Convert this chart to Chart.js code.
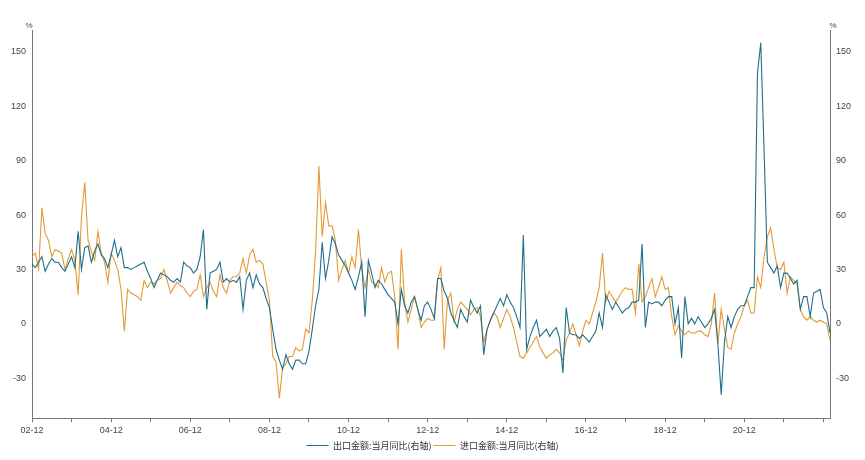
<!DOCTYPE html>
<html>
<head>
<meta charset="utf-8">
<script src="https://cdn.jsdelivr.net/npm/chart.js@4/dist/chart.umd.min.js"></script>
<style>
  html, body { margin: 0; padding: 0; background: #fff; }
  .chart-wrap { width: 865px; height: 460px; }
</style>
</head>
<body>
<div class="chart-wrap"><canvas id="Canvas"></canvas></div>
<script>
// monthly series, 2002-12 .. 2022-12
const startYear = 2002;
const startMonth = 12;

const exportYoY = [
  33,31,34,37,29,33,36,34,34,31,29,33,37,31,51,30,42,43,34,40,44,38,36,31,38,
  46,37,42,31,31,30,31,32,33,34,29,25,20,24,28,27,26,24,23,25,23,34,32,31,28,
  30,37,52,8,28,29,30,34,23,25,23,24,23,26,8,24,28,20,27,22,20,14,9,-3,-14,
  -20,-25,-17,-22,-25,-20,-20,-22,-22,-15,-3,10,19,45,25,35,48,44,38,35,32,28,24,19,26,
  34,4,35,28,20,24,22,19,16,14,12,0,19,10,6,12,15,8,2,10,12,8,3,25,25,
  18,14,6,2,-2,8,4,1,13,9,6,10,-17,-3,2,6,10,14,10,16,12,9,4,-2,49,
  -14,-7,-2,2,-7,-5,-3,-7,-4,-2,-8,-27,9,-5,-6,-6,-8,-6,-8,-10,-7,-4,6,-2,16,
  12,8,12,9,6,8,9,12,12,13,44,-2,12,11,12,12,10,13,15,15,0,9,-19,15,0,
  3,0,4,1,-2,0,3,8,-11,-39,-10,4,-2,4,8,10,10,15,20,20,138,155,96,34,31,
  28,32,20,28,28,25,22,24,8,15,15,4,17,18,19,9,6,-5
];

const importYoY = [
  37,39,30,64,50,46,37,41,40,39,30,36,41,35,16,59,78,46,40,35,51,39,34,23,39,
  35,30,19,-4,19,17,16,15,13,24,20,23,22,24,25,30,24,17,20,23,21,20,17,15,18,
  19,27,15,20,23,18,15,27,20,17,24,26,26,28,36,28,38,41,34,35,33,23,13,-18,-21,
  -41,-24,-22,-18,-18,-13,-15,-14,-3,-5,13,40,87,48,67,54,54,46,24,30,35,28,37,31,52,
  30,20,30,23,22,20,31,23,28,29,15,-14,41,12,1,8,15,8,-2,1,3,2,2,24,31,
  -14,13,17,1,8,12,10,8,5,8,9,4,-10,-3,2,6,4,-2,3,8,4,-2,-10,-18,-19,
  -16,-13,-10,-7,-13,-16,-19,-17,-16,-14,-16,-20,-9,-5,0,-6,-12,-4,2,0,6,12,20,39,12,
  18,15,12,15,18,20,19,19,6,33,12,15,20,25,15,20,26,19,20,4,-6,-1,-4,-6,-4,
  -5,-5,-4,-4,-6,-7,0,17,-11,8,-3,-13,-14,-5,0,4,10,13,6,6,26,20,37,48,53,
  41,31,30,34,17,26,24,22,8,4,2,4,2,1,2,1,0,-9
];

const seriesNames = ['出口金额:当月同比(右轴)', '进口金额:当月同比(右轴)'];
const yTickValues = [-30, 0, 30, 60, 90, 120, 150];
const xTickLabels = ['02-12', '04-12', '06-12', '08-12', '10-12', '12-12', '14-12', '16-12', '18-12', '20-12'];

const labels = [];
for (let i = 0; i < exportYoY.length; i++) {
  const m = (startMonth - 1 + i) % 12 + 1;
  const y = startYear + Math.floor((startMonth - 1 + i) / 12);
  labels.push(String(y % 100).padStart(2, '0') + '-' + String(m).padStart(2, '0'));
}

const axisColor = '#777';
const tickFont = { family: 'Liberation Sans', size: 9 };

function yAxis(position, width) {
  return {
    position: position,
    min: -52,
    max: 162,
    border: { color: axisColor },
    grid: { display: false, drawTicks: true, tickLength: 4, color: axisColor, drawOnChartArea: false },
    afterBuildTicks: (axis) => {
      axis.ticks = [];
      for (let v = -45; v <= 165; v += 15) axis.ticks.push({ value: v });
    },
    ticks: {
      color: '#444',
      font: tickFont,
      padding: 2,
      callback: (v) => yTickValues.includes(v) ? v : ''
    },
    afterFit: (axis) => { axis.width = width; }
  };
}

const percentLabels = {
  id: 'percentLabels',
  afterDraw(chart) {
    const ctx = chart.ctx;
    ctx.save();
    ctx.fillStyle = '#444';
    ctx.font = '8px Liberation Sans';
    ctx.textAlign = 'center';
    ctx.fillText('%', chart.scales.y.right - 3, 26);
    ctx.fillText('%', chart.scales.y2.left + 3, 26);
    ctx.restore();
  }
};

const ctx = document.getElementById('Canvas').getContext('2d');
new Chart(ctx, {
  type: 'line',
  data: {
    labels: labels,
    datasets: [
      { label: seriesNames[0], data: exportYoY, borderColor: '#1f6e8c', borderWidth: 1.1, pointRadius: 0, yAxisID: 'y', tension: 0 },
      { label: seriesNames[1], data: importYoY, borderColor: '#e39a33', borderWidth: 1.1, pointRadius: 0, yAxisID: 'y', tension: 0 }
    ]
  },
  options: {
    responsive: true,
    maintainAspectRatio: false,
    animation: false,
    layout: { padding: { top: 30, bottom: 0, left: 0, right: 0 } },
    plugins: {
      legend: {
        position: 'bottom',
        labels: { boxWidth: 22, boxHeight: 0, font: { family: 'Noto Sans CJK SC', size: 9 }, color: '#333', padding: 2 }
      },
      tooltip: { enabled: false }
    },
    scales: {
      x: {
        offset: false,
        border: { color: axisColor },
        grid: {
          display: true, drawOnChartArea: false, tickLength: 4, color: axisColor
        },
        afterBuildTicks: (axis) => {
          axis.ticks = [];
          labels.forEach((l, i) => { if (l.endsWith('-12')) axis.ticks.push({ value: i }); });
        },
        ticks: {
          autoSkip: false,
          maxRotation: 0,
          color: '#444',
          font: tickFont,
          padding: 3,
          callback: function (v) {
            return xTickLabels.includes(labels[v]) ? labels[v] : '';
          }
        }
      },
      y: yAxis('left', 32),
      y2: Object.assign(yAxis('right', 35), { display: true })
    }
  },
  plugins: [percentLabels]
});
</script>
</body>
</html>
